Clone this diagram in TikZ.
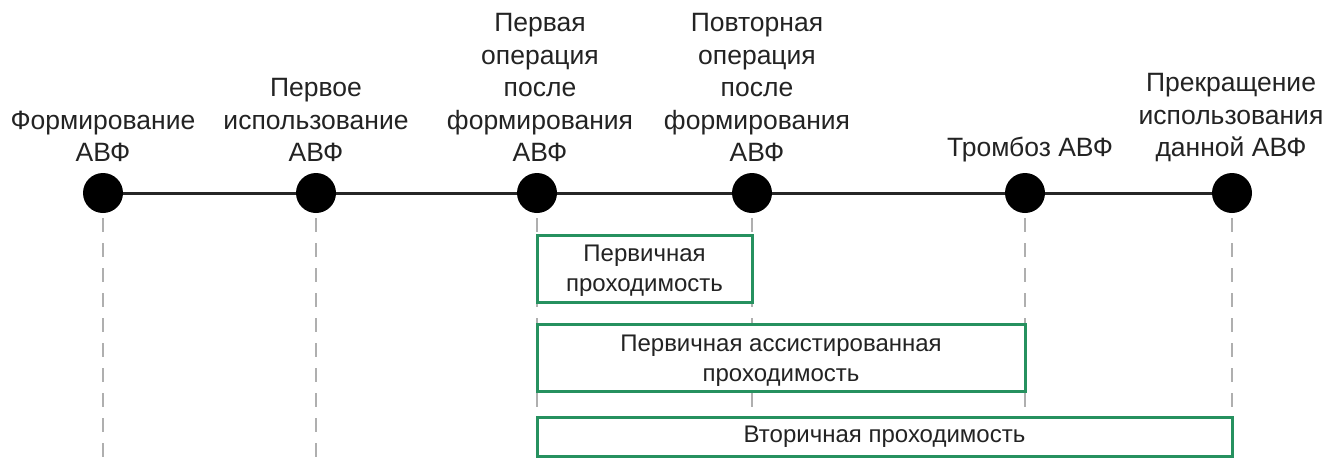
\documentclass[tikz,border=0pt]{standalone}
\usepackage{fontspec}
\setmainfont{Liberation Sans}
\definecolor{ink}{RGB}{35,35,35}
\definecolor{spanedge}{RGB}{38,145,95}
\definecolor{guide}{RGB}{175,175,175}
\begin{document}
\begin{tikzpicture}[x=1pt,y=-1pt,
  event/.style={circle,fill=black,inner sep=0pt,minimum size=40pt},
  eventlabel/.style={anchor=south,align=center,inner sep=0pt,text=ink,
    font=\fontsize{26.5}{32.5}\selectfont},
  axis/.style={line width=3pt,black!85},
  guideline/.style={line width=2.6pt,guide,dash pattern=on 14pt off 11pt},
  span/.style={draw=spanedge,line width=3pt,fill=white,inner sep=0pt,
    align=center,text=ink,font=\fontsize{24}{30}\selectfont}]
\useasboundingbox (0,0) rectangle (1330,458);

% events on the time axis
\node[event] (c1) at (103,193) {};
\node[event] (c2) at (316,193) {};
\node[event] (c3) at (537,193) {};
\node[event] (c4) at (752,193) {};
\node[event] (c5) at (1025,193) {};
\node[event] (c6) at (1232,193) {};

\draw[axis] (c1) -- (c2) -- (c3) -- (c4) -- (c5) -- (c6);

% event labels
\node[eventlabel] (l1) at (103,162) {Формирование\\АВФ};
\node[eventlabel] (l2) at (316,162) {Первое\\использование\\АВФ};
\node[eventlabel] (l3) at (540,162) {Первая\\операция\\после\\формирования\\АВФ};
\node[eventlabel] (l4) at (757,162) {Повторная\\операция\\после\\формирования\\АВФ};
\node[eventlabel] (l5) at (1030,162) {Тромбоз АВФ};
\node[eventlabel] (l6) at (1231,162) {Прекращение\\использования\\данной АВФ};

% vertical guides below the events
\foreach \i/\x in {1/103,2/316,3/537,4/752,5/1025,6/1232}{
  \coordinate (t\i) at (\x,218);
  \coordinate (b\i) at (\x,458);
  \draw[guideline] (t\i) -- (b\i);
}

% patency intervals
\node[span,minimum width=215pt,minimum height=67pt] (p1) at (644.5,268.5)
  {\strut Первичная\\проходимость};
\node[span,minimum width=488pt,minimum height=67pt] (p2) at (781,358)
  {\strut Первичная ассистированная\\проходимость};
\node[span,minimum width=695pt,minimum height=39pt] (p3) at (884.5,436.5)
  {Вторичная проходимость};
\end{tikzpicture}
\end{document}
